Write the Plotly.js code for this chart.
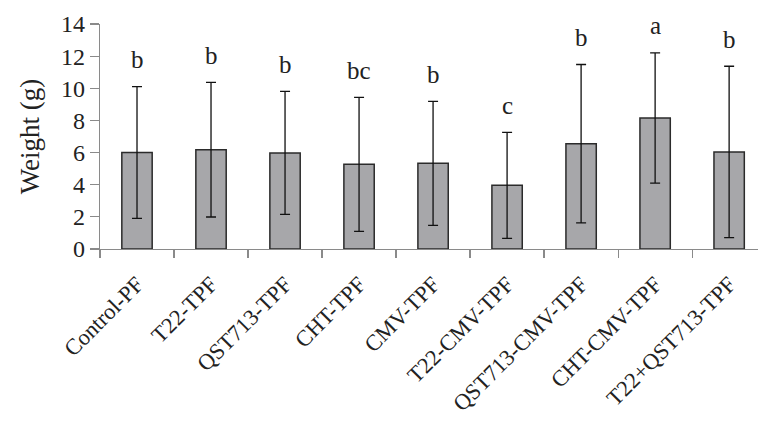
<!DOCTYPE html>
<html><head><meta charset="utf-8">
<script src="https://cdn.plot.ly/plotly-3.0.1.min.js"></script>
<style>body{margin:0;padding:0;background:#fff}#chart{width:758px;height:421px}</style>
</head><body><div id="chart"></div>
<script>
const categories = ["Control-PF","T22-TPF","QST713-TPF","CHT-TPF","CMV-TPF","T22-CMV-TPF","QST713-CMV-TPF","CHT-CMV-TPF","T22+QST713-TPF"];
const meanWeight = [6.0, 6.18, 5.98, 5.27, 5.33, 3.96, 6.55, 8.15, 6.04];
const sdWeight = [4.1, 4.19, 3.83, 4.17, 3.86, 3.3, 4.93, 4.05, 5.33];
const letters = ["b","b","b","bc","b","c","b","a","b"];

const serif = "Liberation Serif";
const trace = {
  type: "bar", x: categories, y: meanWeight,
  width: 0.41,
  marker: {color: "#a7a7aa", line: {color: "#2b2b2b", width: 1.5}},
  error_y: {type: "data", array: sdWeight, visible: true, color: "#111", thickness: 1.3, width: 5},
  hoverinfo: "none"
};
const annotations = categories.map((c, i) => ({
  x: c, y: meanWeight[i] + sdWeight[i], yshift: 27, text: letters[i],
  showarrow: false, font: {family: serif, size: 25, color: "#222"}, xanchor: "center", yanchor: "middle"
}));
const layout = {
  width: 758, height: 421,
  margin: {l: 100, r: 0, t: 24, b: 172},
  paper_bgcolor: "#fff", plot_bgcolor: "#fff",
  showlegend: false,
  font: {family: serif, color: "#222"},
  xaxis: {
    type: "category", range: [-0.5, 8.39], showgrid: false, zeroline: false,
    showline: true, linecolor: "#8a8a8a", linewidth: 1.2,
    ticks: "outside", tickson: "boundaries", ticklen: 8, tickcolor: "#8a8a8a", tickwidth: 1.2,
    tickangle: -45, ticklabelstandoff: 12,
    tickfont: {family: serif, size: 22.5, color: "#222"}, automargin: false
  },
  yaxis: {
    range: [0, 14], dtick: 2, showgrid: false, zeroline: false,
    showline: true, linecolor: "#8a8a8a", linewidth: 1.2,
    ticks: "outside", ticklen: 9, tickcolor: "#8a8a8a", tickwidth: 1.2,
    tickfont: {family: serif, size: 24, color: "#222"}, automargin: false,
    title: {text: "Weight (g)", font: {family: serif, size: 27, color: "#222"}, standoff: 13}
  },
  annotations: annotations
};
Plotly.newPlot("chart", [trace], layout, {staticPlot: true, displayModeBar: false});
</script></body></html>
